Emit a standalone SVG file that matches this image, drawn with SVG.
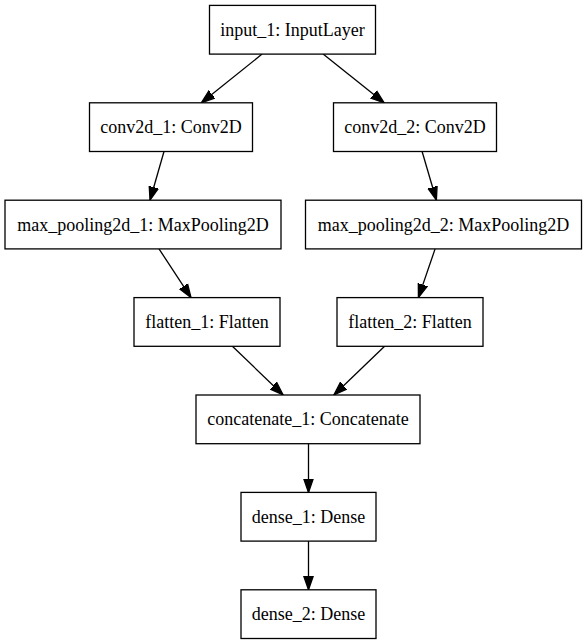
<svg xmlns="http://www.w3.org/2000/svg" width="587" height="644" viewBox="0 0 587 644">
<style>
.node rect{fill:#ffffff;stroke:#000000;stroke-width:1.3}
.node text{font-family:"Liberation Serif","Times New Roman",serif;font-size:18px;fill:#000000;text-anchor:middle}
.edges line{stroke:#000000;stroke-width:1.3;marker-end:url(#arrow)}
</style>
<defs>
<marker id="arrow" markerUnits="userSpaceOnUse" markerWidth="16" markerHeight="12" viewBox="0 -6 16 12" refX="13.5" refY="0" orient="auto">
<polygon points="0,-4.7 13.5,0 0,4.7" fill="#000000" stroke="#000000" stroke-width="1.3"/>
</marker>
</defs>
<rect x="0" y="0" width="587" height="644" fill="#ffffff"/>
<g class="edges" id="connectors">
<line x1="262.1" y1="54.1" x2="201.4" y2="102.8"/>
<line x1="323.1" y1="54.1" x2="384.1" y2="102.8"/>
<line x1="164" y1="151.5" x2="150" y2="200.2"/>
<line x1="422.1" y1="151.5" x2="436.4" y2="200.2"/>
<line x1="159" y1="248.9" x2="191" y2="297.6"/>
<line x1="435.1" y1="248.9" x2="418.4" y2="297.6"/>
<line x1="232.4" y1="346.3" x2="283.1" y2="395"/>
<line x1="384.6" y1="346.3" x2="333.9" y2="395"/>
<line x1="308.5" y1="443.7" x2="308.5" y2="492.4"/>
<line x1="308.5" y1="541.1" x2="308.5" y2="589.8"/>
</g>
<g class="node" id="input_1"><rect x="209.5" y="5.4" width="166" height="48.7"/><text x="292.5" y="35.8">input_1: InputLayer</text></g>
<g class="node" id="conv2d_1"><rect x="89.5" y="102.8" width="163" height="48.7"/><text x="171" y="133.2">conv2d_1: Conv2D</text></g>
<g class="node" id="conv2d_2"><rect x="333.5" y="102.8" width="163" height="48.7"/><text x="415" y="133.2">conv2d_2: Conv2D</text></g>
<g class="node" id="max_pooling2d_1"><rect x="5" y="200.2" width="276" height="48.7"/><text x="143" y="230.6">max_pooling2d_1: MaxPooling2D</text></g>
<g class="node" id="max_pooling2d_2"><rect x="305.5" y="200.2" width="276" height="48.7"/><text x="443.5" y="230.6">max_pooling2d_2: MaxPooling2D</text></g>
<g class="node" id="flatten_1"><rect x="134" y="297.6" width="146" height="48.7"/><text x="207" y="328">flatten_1: Flatten</text></g>
<g class="node" id="flatten_2"><rect x="337" y="297.6" width="146" height="48.7"/><text x="410" y="328">flatten_2: Flatten</text></g>
<g class="node" id="concatenate_1"><rect x="196" y="395" width="224" height="48.7"/><text x="308" y="425.4">concatenate_1: Concatenate</text></g>
<g class="node" id="dense_1"><rect x="241" y="492.4" width="135" height="48.7"/><text x="308.5" y="522.8">dense_1: Dense</text></g>
<g class="node" id="dense_2"><rect x="241" y="589.8" width="135" height="48.7"/><text x="308.5" y="620.2">dense_2: Dense</text></g>
</svg>
